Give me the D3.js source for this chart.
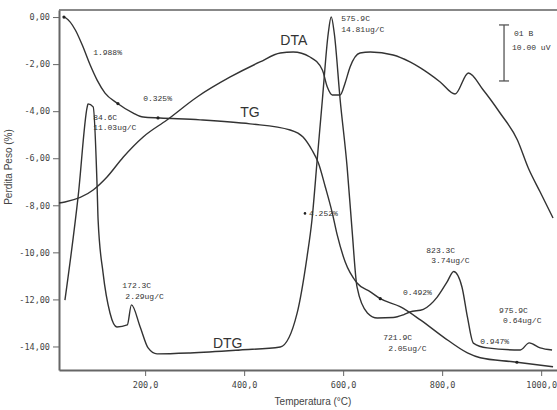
<!DOCTYPE html>
<html>
<head>
<meta charset="utf-8">
<title>TG / DTA / DTG</title>
<style>
  body { margin: 0; background: #fff; }
  path.curve { fill: none; stroke: #333; stroke-width: 1.4px; }
  .axis path, .axis line { stroke: #666; }
  .axis path { stroke-width: 2px; }
  .axis text { font: 8.5px "DejaVu Sans Mono", monospace; fill: #444; }
  text.note { font: 8px "Liberation Mono", "DejaVu Sans Mono", monospace; fill: #333; }
  text.big { font: 14px "Liberation Sans", Arial, sans-serif; fill: #333; }
  text.title { font: 10px "Liberation Sans", Arial, sans-serif; fill: #444; }
</style>
</head>
<body>
<script src="https://cdn.jsdelivr.net/npm/d3@7"></script>
<script>

// ---- data ----
// TG: weight loss (%)
var tgTemp = [36, 40, 59, 73, 89, 103, 119, 143, 176, 196, 230, 311, 412, 493, 519, 537, 550, 564, 578, 588, 604, 628, 655, 675, 715, 756, 802, 851, 877, 943, 1024];
var tgLoss = [0, -0.04, -0.55, -1.19, -2.04, -2.68, -3.23, -3.65, -4.08, -4.25, -4.29, -4.37, -4.54, -4.80, -5.10, -5.65, -6.20, -7.22, -8.32, -9.26, -10.40, -11.30, -11.68, -11.97, -12.31, -12.87, -13.59, -14.27, -14.48, -14.65, -14.86];
var tgMarks = [36, 145, 226, 675, 951];

// DTA signal (uV, arbitrary origin)
var dtaTemp = [26, 38, 95, 123, 156, 196, 244, 305, 372, 432, 473, 499, 533, 558, 568, 578, 594, 604, 614, 634, 655, 701, 735, 756, 796, 826, 853, 883, 917, 952, 974, 998, 1024];
var dtaUv = [0, 0.18, 2.32, 4.64, 8.21, 11.79, 14.82, 18.93, 22.50, 25.18, 26.79, 26.96, 26.07, 23.75, 20.71, 19.29, 19.29, 21.43, 24.29, 26.79, 26.96, 26.43, 25.18, 24.11, 21.61, 19.46, 23.21, 20.18, 16.07, 11.25, 6.25, 1.96, -2.68];

// DTG (ug/C)
var dtgTemp = [38, 65, 83, 84.6, 95, 103, 105, 115, 129, 143, 164, 172.3, 190, 206, 224, 291, 392, 473, 507, 527, 537, 548, 558, 570, 575.9, 582, 594, 608, 618, 628, 649, 669, 701, 721.9, 735, 762, 790, 810, 823.3, 840, 851, 863, 891, 958, 975.9, 998, 1022];
var dtgRate = [2.50, 7.07, 10.90, 11.03, 10.90, 7.42, 5.98, 3.68, 1.94, 1.33, 1.42, 2.29, 1.33, 0.42, 0.16, 0.20, 0.33, 0.46, 1.93, 4.37, 5.98, 8.71, 11.20, 14.11, 14.81, 14.11, 11.20, 8.29, 5.55, 3.07, 1.94, 1.72, 1.74, 1.86, 1.98, 2.10, 2.63, 3.29, 3.74, 3.07, 1.77, 0.63, 0.42, 0.33, 0.64, 0.42, 0.33];

// axis ticks
var xTicks = [200, 400, 600, 800, 1000];
var yTicks = [0, -2, -4, -6, -8, -10, -12, -14];

// annotations: text, temperature, level on the % axis
var notes = [
  ["1.988%", 95, -1.61],
  ["0.325%", 196, -3.57],
  ["84.6C", 95, -4.37],
  ["11.03ug/C", 95, -4.80],
  ["575.9C", 596, -0.17],
  ["14.81ug/C", 596, -0.64],
  ["172.3C", 154, -11.51],
  ["2.29ug/C", 160, -11.97],
  ["4.252%", 531, -8.45],
  ["0.492%", 721, -11.80],
  ["823.3C", 768, -10.02],
  ["3.74ug/C", 778, -10.45],
  ["721.9C", 681, -13.72],
  ["2.05ug/C", 691, -14.18],
  ["0.947%", 877, -13.89],
  ["975.9C", 915, -12.57],
  ["0.64ug/C", 923, -12.99]
];
var bigLabels = [["DTA", 473, -1.19], ["TG", 392, -4.25], ["DTG", 337, -14.06]];

// ---- chart ----
var width = 557, height = 410;
var plotLeft = 59, plotRight = 557, plotTop = 10, plotBottom = 370;

var svg = d3.select("body").append("svg")
    .attr("width", width)
    .attr("height", height);

var x = d3.scaleLinear().domain([26, 1032]).range([plotLeft, plotRight]);
var y = d3.scaleLinear().domain([-15, 0.3]).range([plotBottom, plotTop]);
var yDta = d3.scaleLinear().domain([-29.82, 34.46]).range([plotBottom, plotTop]);
var yDtg = d3.scaleLinear().domain([-0.54, 15.11]).range([plotBottom, plotTop]);

// frame top line
svg.append("line")
    .attr("x1", plotLeft).attr("x2", plotRight)
    .attr("y1", plotTop).attr("y2", plotTop)
    .style("stroke", "#888").style("stroke-width", 2);

svg.append("g")
    .attr("class", "axis")
    .attr("transform", "translate(0," + plotBottom + ")")
    .call(d3.axisBottom(x).tickValues(xTicks).tickSize(6).tickSizeOuter(0)
        .tickFormat(function (d) { return d.toFixed(1).replace(".", ","); }))
    .selectAll("text").attr("dy", "1.1em");

svg.append("g")
    .attr("class", "axis")
    .attr("transform", "translate(" + plotLeft + ",0)")
    .call(d3.axisLeft(y).tickValues(yTicks).tickSize(6).tickSizeOuter(0)
        .tickFormat(function (d) { return d.toFixed(2).replace(".", ","); }));

// curves
var tgLine = d3.line()
    .x(function (d, i) { return x(tgTemp[i]); })
    .y(function (d) { return y(d); })
    .curve(d3.curveMonotoneX);
var dtaLine = d3.line()
    .x(function (d, i) { return x(dtaTemp[i]); })
    .y(function (d) { return yDta(d); })
    .curve(d3.curveMonotoneX);
var dtgLine = d3.line()
    .x(function (d, i) { return x(dtgTemp[i]); })
    .y(function (d) { return yDtg(d); })
    .curve(d3.curveMonotoneX);

svg.append("path").attr("class", "curve").attr("d", dtaLine(dtaUv));
svg.append("path").attr("class", "curve").attr("d", dtgLine(dtgRate));
svg.append("path").attr("class", "curve").attr("d", tgLine(tgLoss));

// small step markers on TG
function tgAt(t) {
  for (var i = 1; i < tgTemp.length; i++) {
    if (t <= tgTemp[i]) {
      var f = (t - tgTemp[i - 1]) / (tgTemp[i] - tgTemp[i - 1]);
      return tgLoss[i - 1] + f * (tgLoss[i] - tgLoss[i - 1]);
    }
  }
  return tgLoss[tgLoss.length - 1];
}
svg.selectAll("circle.mark")
    .data(tgMarks)
    .enter().append("circle")
    .attr("class", "mark")
    .attr("cx", function (d) { return x(d); })
    .attr("cy", function (d) { return y(tgAt(d)); })
    .attr("r", 1.6)
    .style("fill", "#222");

// annotations
svg.selectAll("text.note")
    .data(notes)
    .enter().append("text")
    .attr("class", "note")
    .attr("x", function (d) { return x(d[1]); })
    .attr("y", function (d) { return y(d[2]); })
    .text(function (d) { return d[0]; });

// dot before 4.252%
svg.append("circle")
    .attr("cx", x(531) - 4).attr("cy", y(-8.45) - 2.5)
    .attr("r", 1.3).style("fill", "#222");

svg.selectAll("text.big")
    .data(bigLabels)
    .enter().append("text")
    .attr("class", "big")
    .attr("x", function (d) { return x(d[1]); })
    .attr("y", function (d) { return y(d[2]); })
    .text(function (d) { return d[0]; });

// DTA scale bar: 10 uV
var barTop = 31.79, barLen = 10;
var bx = x(925);
var bar = svg.append("g").style("stroke", "#555").style("stroke-width", 1.3);
bar.append("line").attr("x1", bx).attr("x2", bx).attr("y1", yDta(barTop)).attr("y2", yDta(barTop - barLen));
bar.append("line").attr("x1", bx - 5).attr("x2", bx + 5).attr("y1", yDta(barTop)).attr("y2", yDta(barTop));
bar.append("line").attr("x1", bx - 5).attr("x2", bx + 5).attr("y1", yDta(barTop - barLen)).attr("y2", yDta(barTop - barLen));
svg.append("text").attr("class", "note").attr("x", bx + 10).attr("y", yDta(barTop) + 11).text("01 B");
svg.append("text").attr("class", "note").attr("x", bx + 8).attr("y", yDta(barTop) + 25).text("10.00 uV");

// axis titles
svg.append("text")
    .attr("class", "title")
    .attr("text-anchor", "middle")
    .attr("x", (plotLeft + plotRight) / 2 + 5)
    .attr("y", 405)
    .text("Temperatura (°C)");

svg.append("text")
    .attr("class", "title")
    .attr("text-anchor", "middle")
    .attr("transform", "translate(12,167) rotate(-90)")
    .text("Perdita Peso (%)");

</script>
</body>
</html>
